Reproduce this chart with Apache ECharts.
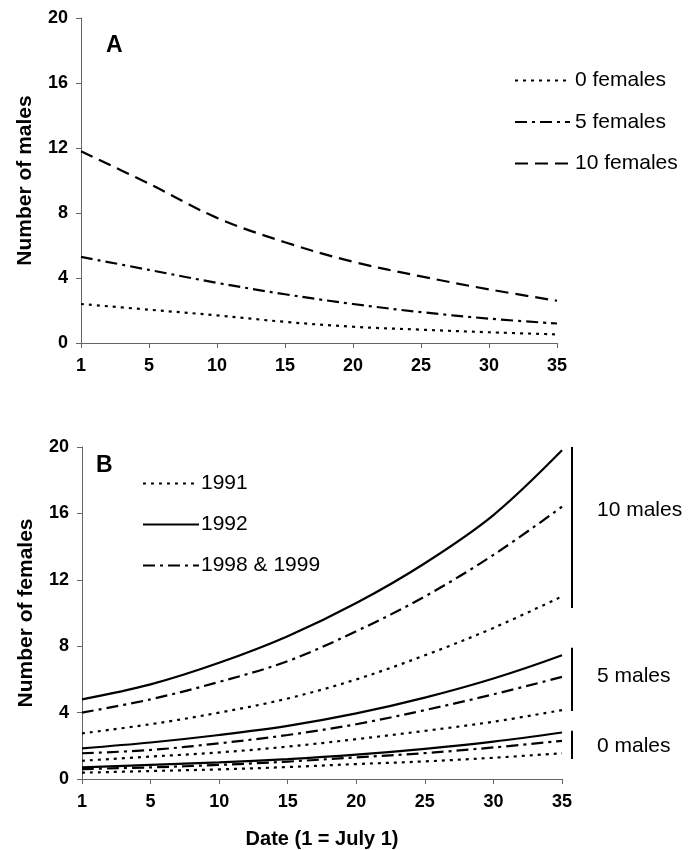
<!DOCTYPE html>
<html>
<head>
<meta charset="utf-8">
<script src="https://cdn.jsdelivr.net/npm/echarts@6/dist/echarts.min.js"></script>
<style>
html,body{margin:0;padding:0;background:#fff;}
#container{width:696px;height:850px;}
</style>
</head>
<body>
<div id="container"></div>
<script>
// x categories (dates)
var dates = ['1', '5', '10', '15', '20', '25', '30', '35'];
var yTicks = [0, 4, 8, 12, 16, 20];

// panel A: number of males
var fem0 = [2.4, 2.05, 1.7, 1.3, 1.0, 0.82, 0.66, 0.53];
var fem5 = [5.3, 4.5, 3.7, 3.0, 2.4, 1.9, 1.5, 1.2];
var fem10 = [11.8, 9.8, 7.7, 6.2, 5.0, 4.1, 3.3, 2.6];

// panel B: number of females
var y1991m10 = [2.75, 3.3, 4.0, 4.85, 6.0, 7.45, 9.1, 11.0];
var y1992m10 = [4.8, 5.7, 7.0, 8.6, 10.6, 13.0, 15.9, 19.8];
var y1998m10 = [4.0, 4.8, 5.85, 7.1, 8.9, 11.0, 13.5, 16.4];
var y1991m5 = [1.1, 1.35, 1.6, 1.95, 2.4, 2.9, 3.45, 4.15];
var y1992m5 = [1.85, 2.2, 2.65, 3.2, 3.95, 4.9, 6.05, 7.45];
var y1998m5 = [1.55, 1.75, 2.15, 2.65, 3.3, 4.15, 5.1, 6.15];
var y1991m0 = [0.38, 0.48, 0.58, 0.72, 0.9, 1.06, 1.28, 1.55];
var y1992m0 = [0.7, 0.85, 1.0, 1.2, 1.47, 1.82, 2.25, 2.8];
var y1998m0 = [0.6, 0.7, 0.85, 1.05, 1.3, 1.56, 1.9, 2.3];

// brackets on the right of panel B: [from, to, label value, text]
var brackets = [
	[20, 10.3, 16.2, '10 males'],
	[7.9, 4.1, 6.2, '5 males'],
	[2.9, 1.2, 2.0, '0 males']
];

var FONT = 'Liberation Sans';
var DOT = [3, 5];
var DASHDOT = [12, 5, 3, 5];
var DASH = [13, 7];

function line(name, data, type, idx) {
	return {
		name: name,
		type: 'line',
		xAxisIndex: idx,
		yAxisIndex: idx,
		data: data,
		smooth: 0.35,
		symbol: 'none',
		lineStyle: { color: '#000', width: 2.2, type: type },
		itemStyle: { color: '#000' }
	};
}

function xAx(idx, name) {
	return {
		type: 'category',
		gridIndex: idx,
		data: dates,
		boundaryGap: false,
		axisLine: { lineStyle: { color: '#666', width: 1 } },
		axisTick: { lineStyle: { color: '#666' }, length: 5 },
		axisLabel: { color: '#000', fontFamily: FONT, fontWeight: 'bold', fontSize: 18, margin: 14 },
		splitLine: { show: false },
		name: name,
		nameLocation: 'middle',
		nameGap: 50,
		nameTextStyle: { color: '#000', fontFamily: FONT, fontWeight: 'bold', fontSize: 20 }
	};
}

function yAx(idx, name) {
	return {
		type: 'value',
		gridIndex: idx,
		min: yTicks[0],
		max: yTicks[yTicks.length - 1],
		interval: 4,
		axisLine: { show: true, lineStyle: { color: '#666', width: 1 } },
		axisTick: { show: true, lineStyle: { color: '#666' }, length: 5 },
		axisLabel: { color: '#000', fontFamily: FONT, fontWeight: 'bold', fontSize: 18, margin: 13 },
		splitLine: { show: false },
		name: name,
		nameLocation: 'middle',
		nameRotate: 90,
		nameGap: 45,
		nameTextStyle: { color: '#000', fontFamily: FONT, fontWeight: 'bold', fontSize: 21 }
	};
}

var dom = document.getElementById('container');
var myChart = echarts.init(dom);

var option = {
	backgroundColor: '#fff',
	animation: false,
	grid: [
		{ left: 81, top: 18, right: 139, bottom: 507 },
		{ left: 82, top: 447, right: 134, bottom: 70 }
	],
	xAxis: [xAx(0, ''), xAx(1, 'Date (1 = July 1)')],
	yAxis: [yAx(0, 'Number of males'), yAx(1, 'Number of females')],
	legend: [{
		data: ['0 females', '5 females', '10 females'],
		orient: 'vertical',
		left: 509,
		top: 65,
		itemWidth: 55,
		itemHeight: 14,
		itemGap: 20.5,
		itemStyle: { opacity: 0 },
		textStyle: { color: '#000', fontFamily: FONT, fontSize: 21 }
	}, {
		data: ['1991', '1992', '1998 & 1999'],
		orient: 'vertical',
		left: 137,
		top: 468,
		itemWidth: 56,
		itemHeight: 14,
		itemGap: 20,
		itemStyle: { opacity: 0 },
		textStyle: { color: '#000', fontFamily: FONT, fontSize: 21, padding: [0, 0, 0, -3] }
	}],
	series: [
		line('0 females', fem0, DOT, 0),
		line('5 females', fem5, DASHDOT, 0),
		line('10 females', fem10, DASH, 0),
		line('1991', y1991m10, DOT, 1),
		line('1992', y1992m10, 'solid', 1),
		line('1998 & 1999', y1998m10, DASHDOT, 1),
		line('1991', y1991m5, DOT, 1),
		line('1992', y1992m5, 'solid', 1),
		line('1998 & 1999', y1998m5, DASHDOT, 1),
		line('1991', y1991m0, DOT, 1),
		line('1992', y1992m0, 'solid', 1),
		line('1998 & 1999', y1998m0, DASHDOT, 1)
	]
};
myChart.setOption(option);

// panel letters and right-hand brackets, placed through the axes
var gr = [];
gr.push({ type: 'text', left: 106, top: 34, style: { text: 'A', fill: '#000', font: 'bold 23px ' + FONT } });
gr.push({ type: 'text', left: 96, top: 454, style: { text: 'B', fill: '#000', font: 'bold 23px ' + FONT } });
var bx = myChart.convertToPixel({ xAxisIndex: 1 }, dates[dates.length - 1]) + 10;
brackets.forEach(function (b) {
	var y1 = myChart.convertToPixel({ yAxisIndex: 1 }, b[0]);
	var y2 = myChart.convertToPixel({ yAxisIndex: 1 }, b[1]);
	var yt = myChart.convertToPixel({ yAxisIndex: 1 }, b[2]);
	gr.push({ type: 'line', shape: { x1: bx, y1: y1, x2: bx, y2: y2 }, style: { stroke: '#000', lineWidth: 2 } });
	gr.push({ type: 'text', x: bx + 25, y: yt, style: { text: b[3], fill: '#000', font: '21px ' + FONT, textVerticalAlign: 'middle' } });
});
myChart.setOption({ graphic: gr });
</script>
</body>
</html>
